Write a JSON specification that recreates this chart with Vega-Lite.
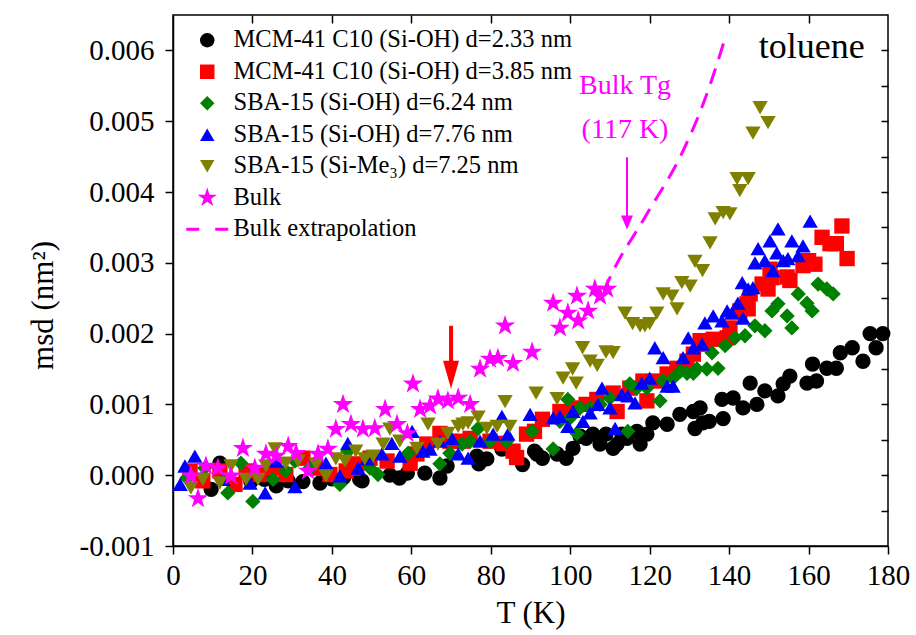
{
  "$schema": "https://vega.github.io/schema/vega-lite/v6.json",
  "width": 715,
  "height": 531,
  "autosize": "none",
  "padding": {"left": 173, "top": 15, "right": 28, "bottom": 89},
  "background": "white",
  "config": {
    "font": "Liberation Serif",
    "view": {"stroke": "black", "strokeWidth": 1.5},
    "axis": {"domainColor": "black", "domainWidth": 1.5, "tickColor": "black", "tickWidth": 1.5, "labelColor": "black", "titleColor": "black", "grid": false, "labelFont": "Liberation Serif", "titleFont": "Liberation Serif", "titleFontWeight": "normal", "zindex": 1},
    "legend": {"orient": "none", "legendX": 22, "legendY": 13, "padding": 0, "rowPadding": 6.5, "labelFontSize": 24.5, "labelFont": "Liberation Serif", "labelColor": "black", "labelOffset": 14, "labelLimit": 0, "symbolSize": 210, "symbolStrokeWidth": 0, "symbolOpacity": 1},
    "text": {"font": "Liberation Serif"}
  },
  "datasets": {
    "pts": [
      {"T":9.6,"msd":-0.0002,"s":"a"},{"T":11.8,"msd":0.00017,"s":"a"},{"T":19.6,"msd":-0.00009,"s":"a"},{"T":23,"msd":-0.00006,"s":"a"},{"T":26,"msd":-0.00015,"s":"a"},{"T":29,"msd":-0.00008,"s":"a"},{"T":32.7,"msd":-0.00009,"s":"a"},{"T":37,"msd":-0.00011,"s":"a"},{"T":40,"msd":-0.00005,"s":"a"},{"T":43,"msd":-0.00003,"s":"a"},{"T":47,"msd":-0.00006,"s":"a"},{"T":47.6,"msd":-0.00008,"s":"a"},{"T":54.6,"msd":0,"s":"a"},{"T":57,"msd":-0.00004,"s":"a"},{"T":59,"msd":0.00003,"s":"a"},{"T":63.4,"msd":0.00003,"s":"a"},{"T":67.2,"msd":-0.00004,"s":"a"},{"T":69,"msd":0.00013,"s":"a"},{"T":76.5,"msd":0.00027,"s":"a"},{"T":77,"msd":0.00016,"s":"a"},{"T":79,"msd":0.00023,"s":"a"},{"T":82.8,"msd":0.00037,"s":"a"},{"T":88,"msd":0.00015,"s":"a"},{"T":91,"msd":0.00034,"s":"a"},{"T":91.6,"msd":0.0003,"s":"a"},{"T":93,"msd":0.00024,"s":"a"},{"T":96.7,"msd":0.0003,"s":"a"},{"T":99,"msd":0.00024,"s":"a"},{"T":100.7,"msd":0.00038,"s":"a"},{"T":102.5,"msd":0.00055,"s":"a"},{"T":104,"msd":0.00052,"s":"a"},{"T":105.7,"msd":0.00058,"s":"a"},{"T":107.5,"msd":0.00044,"s":"a"},{"T":109,"msd":0.00058,"s":"a"},{"T":110.8,"msd":0.00038,"s":"a"},{"T":111.8,"msd":0.00044,"s":"a"},{"T":113,"msd":0.00058,"s":"a"},{"T":114.3,"msd":0.00052,"s":"a"},{"T":116.8,"msd":0.00062,"s":"a"},{"T":117.6,"msd":0.00044,"s":"a"},{"T":119.3,"msd":0.00058,"s":"a"},{"T":120.8,"msd":0.00074,"s":"a"},{"T":124.4,"msd":0.00072,"s":"a"},{"T":127.6,"msd":0.00086,"s":"a"},{"T":131,"msd":0.0009,"s":"a"},{"T":131.4,"msd":0.00066,"s":"a"},{"T":132.7,"msd":0.00095,"s":"a"},{"T":133.4,"msd":0.00074,"s":"a"},{"T":135,"msd":0.00076,"s":"a"},{"T":138.5,"msd":0.0008,"s":"a"},{"T":138.2,"msd":0.00107,"s":"a"},{"T":141,"msd":0.00109,"s":"a"},{"T":143.5,"msd":0.00095,"s":"a"},{"T":145.3,"msd":0.0013,"s":"a"},{"T":147,"msd":0.001,"s":"a"},{"T":149,"msd":0.00119,"s":"a"},{"T":152.3,"msd":0.00112,"s":"a"},{"T":153.6,"msd":0.00129,"s":"a"},{"T":155.3,"msd":0.0014,"s":"a"},{"T":159.6,"msd":0.0013,"s":"a"},{"T":161,"msd":0.00157,"s":"a"},{"T":162,"msd":0.00133,"s":"a"},{"T":164.6,"msd":0.00151,"s":"a"},{"T":167,"msd":0.00151,"s":"a"},{"T":168,"msd":0.00173,"s":"a"},{"T":171,"msd":0.0018,"s":"a"},{"T":173.7,"msd":0.00161,"s":"a"},{"T":175.5,"msd":0.002,"s":"a"},{"T":177,"msd":0.0018,"s":"a"},{"T":178.7,"msd":0.002,"s":"a"},
      {"T":4.3,"msd":0.00006,"s":"b"},{"T":7.5,"msd":-0.00008,"s":"b"},{"T":11.8,"msd":0.00006,"s":"b"},{"T":15.6,"msd":-0.00013,"s":"b"},{"T":18.4,"msd":0.00006,"s":"b"},{"T":21.9,"msd":0.00001,"s":"b"},{"T":25.2,"msd":0.0001,"s":"b"},{"T":28.4,"msd":0.00001,"s":"b"},{"T":32.7,"msd":0.00024,"s":"b"},{"T":36,"msd":0.0001,"s":"b"},{"T":39.5,"msd":0.00001,"s":"b"},{"T":43.6,"msd":0.00006,"s":"b"},{"T":45.3,"msd":0.0001,"s":"b"},{"T":46.3,"msd":0.00016,"s":"b"},{"T":49.6,"msd":0.00024,"s":"b"},{"T":53.9,"msd":0.0002,"s":"b"},{"T":59.7,"msd":0.00017,"s":"b"},{"T":61.4,"msd":0.0003,"s":"b"},{"T":63.9,"msd":0.00044,"s":"b"},{"T":67.2,"msd":0.00059,"s":"b"},{"T":69.7,"msd":0.00048,"s":"b"},{"T":73,"msd":0.00048,"s":"b"},{"T":74.8,"msd":0.00052,"s":"b"},{"T":79.8,"msd":0.00048,"s":"b"},{"T":83.1,"msd":0.00045,"s":"b"},{"T":85.6,"msd":0.00034,"s":"b"},{"T":86.5,"msd":0.00025,"s":"b"},{"T":89,"msd":0.00058,"s":"b"},{"T":91,"msd":0.00062,"s":"b"},{"T":93,"msd":0.00079,"s":"b"},{"T":97.4,"msd":0.0009,"s":"b"},{"T":100.7,"msd":0.00095,"s":"b"},{"T":104,"msd":0.001,"s":"b"},{"T":106.7,"msd":0.00107,"s":"b"},{"T":110.8,"msd":0.00116,"s":"b"},{"T":111.8,"msd":0.0009,"s":"b"},{"T":115,"msd":0.00123,"s":"b"},{"T":118.3,"msd":0.00133,"s":"b"},{"T":119.3,"msd":0.00105,"s":"b"},{"T":121.8,"msd":0.00133,"s":"b"},{"T":124.4,"msd":0.00143,"s":"b"},{"T":126.9,"msd":0.00151,"s":"b"},{"T":129.4,"msd":0.00161,"s":"b"},{"T":131,"msd":0.00171,"s":"b"},{"T":132.7,"msd":0.0019,"s":"b"},{"T":133.4,"msd":0.00185,"s":"b"},{"T":136,"msd":0.00192,"s":"b"},{"T":139.5,"msd":0.00194,"s":"b"},{"T":140.2,"msd":0.00208,"s":"b"},{"T":142.7,"msd":0.00232,"s":"b"},{"T":144.5,"msd":0.00242,"s":"b"},{"T":144.8,"msd":0.00235,"s":"b"},{"T":145.3,"msd":0.00256,"s":"b"},{"T":148.3,"msd":0.0027,"s":"b"},{"T":149.8,"msd":0.00263,"s":"b"},{"T":150.3,"msd":0.00291,"s":"b"},{"T":150.8,"msd":0.00279,"s":"b"},{"T":154.6,"msd":0.0028,"s":"b"},{"T":155.3,"msd":0.00275,"s":"b"},{"T":158.6,"msd":0.00296,"s":"b"},{"T":160,"msd":0.00303,"s":"b"},{"T":161.6,"msd":0.00298,"s":"b"},{"T":163.4,"msd":0.00336,"s":"b"},{"T":165.4,"msd":0.00327,"s":"b"},{"T":167,"msd":0.00327,"s":"b"},{"T":168.4,"msd":0.00352,"s":"b"},{"T":169.7,"msd":0.00306,"s":"b"},
      {"T":3.5,"msd":-0.00004,"s":"c"},{"T":8,"msd":0.0001,"s":"c"},{"T":13.8,"msd":-0.00025,"s":"c"},{"T":17.1,"msd":0.00017,"s":"c"},{"T":20.1,"msd":-0.00037,"s":"c"},{"T":25.2,"msd":-0.00006,"s":"c"},{"T":28.4,"msd":0.00006,"s":"c"},{"T":30.7,"msd":0.0002,"s":"c"},{"T":34.5,"msd":0.0001,"s":"c"},{"T":42,"msd":-0.00013,"s":"c"},{"T":44,"msd":0.00034,"s":"c"},{"T":49.6,"msd":0.0001,"s":"c"},{"T":51.6,"msd":0.00001,"s":"c"},{"T":59.2,"msd":0.00031,"s":"c"},{"T":67.2,"msd":0.00016,"s":"c"},{"T":69.7,"msd":0.00031,"s":"c"},{"T":72.8,"msd":0.00044,"s":"c"},{"T":74.8,"msd":0.00048,"s":"c"},{"T":76.8,"msd":0.00066,"s":"c"},{"T":79.8,"msd":0.00048,"s":"c"},{"T":84,"msd":0.00048,"s":"c"},{"T":90.4,"msd":0.00062,"s":"c"},{"T":95.7,"msd":0.00037,"s":"c"},{"T":97.4,"msd":0.00076,"s":"c"},{"T":99.4,"msd":0.00107,"s":"c"},{"T":100,"msd":0.00081,"s":"c"},{"T":101.7,"msd":0.00059,"s":"c"},{"T":102.5,"msd":0.00095,"s":"c"},{"T":105,"msd":0.00095,"s":"c"},{"T":107.5,"msd":0.001,"s":"c"},{"T":110,"msd":0.00109,"s":"c"},{"T":114.5,"msd":0.00062,"s":"c"},{"T":115,"msd":0.00129,"s":"c"},{"T":116.8,"msd":0.00123,"s":"c"},{"T":119.3,"msd":0.00123,"s":"c"},{"T":122.6,"msd":0.00105,"s":"c"},{"T":123.4,"msd":0.00133,"s":"c"},{"T":125.9,"msd":0.00137,"s":"c"},{"T":127.8,"msd":0.00147,"s":"c"},{"T":129.4,"msd":0.00144,"s":"c"},{"T":131,"msd":0.00144,"s":"c"},{"T":131.9,"msd":0.0015,"s":"c"},{"T":134.4,"msd":0.0015,"s":"c"},{"T":135.7,"msd":0.00173,"s":"c"},{"T":137.2,"msd":0.00151,"s":"c"},{"T":139,"msd":0.00183,"s":"c"},{"T":141.5,"msd":0.00194,"s":"c"},{"T":144,"msd":0.00197,"s":"c"},{"T":146.5,"msd":0.00211,"s":"c"},{"T":149,"msd":0.00204,"s":"c"},{"T":150.8,"msd":0.00232,"s":"c"},{"T":152.3,"msd":0.00242,"s":"c"},{"T":154.6,"msd":0.00225,"s":"c"},{"T":155.8,"msd":0.00208,"s":"c"},{"T":157.4,"msd":0.00256,"s":"c"},{"T":159.6,"msd":0.00243,"s":"c"},{"T":160.9,"msd":0.00232,"s":"c"},{"T":162.4,"msd":0.0027,"s":"c"},{"T":164.6,"msd":0.00263,"s":"c"},{"T":166.2,"msd":0.00256,"s":"c"},
      {"T":1.8,"msd":-0.00013,"s":"d"},{"T":3,"msd":0.00013,"s":"d"},{"T":5.5,"msd":0.00027,"s":"d"},{"T":12.6,"msd":-0.00006,"s":"d"},{"T":19.4,"msd":-0.00011,"s":"d"},{"T":23.2,"msd":-0.00025,"s":"d"},{"T":26,"msd":0.0002,"s":"d"},{"T":30.7,"msd":-0.00016,"s":"d"},{"T":38.5,"msd":0.00017,"s":"d"},{"T":42,"msd":-0.00001,"s":"d"},{"T":44,"msd":0.00045,"s":"d"},{"T":46.6,"msd":0.0001,"s":"d"},{"T":48.8,"msd":0.00023,"s":"d"},{"T":52.6,"msd":0.0003,"s":"d"},{"T":55.1,"msd":0.00045,"s":"d"},{"T":57.1,"msd":0.00027,"s":"d"},{"T":60.2,"msd":0.00062,"s":"d"},{"T":62.9,"msd":0.00034,"s":"d"},{"T":64.7,"msd":0.00037,"s":"d"},{"T":67.2,"msd":0.00048,"s":"d"},{"T":70.2,"msd":0.00052,"s":"d"},{"T":71.8,"msd":0.0003,"s":"d"},{"T":74.3,"msd":0.00024,"s":"d"},{"T":77.3,"msd":0.00048,"s":"d"},{"T":80.6,"msd":0.00058,"s":"d"},{"T":82.8,"msd":0.00083,"s":"d"},{"T":84.3,"msd":0.00058,"s":"d"},{"T":89.9,"msd":0.00086,"s":"d"},{"T":95.7,"msd":0.00081,"s":"d"},{"T":97.4,"msd":0.00083,"s":"d"},{"T":99.4,"msd":0.00069,"s":"d"},{"T":100.7,"msd":0.0009,"s":"d"},{"T":103.2,"msd":0.00076,"s":"d"},{"T":105,"msd":0.00088,"s":"d"},{"T":107,"msd":0.001,"s":"d"},{"T":108,"msd":0.00123,"s":"d"},{"T":110,"msd":0.00095,"s":"d"},{"T":111.3,"msd":0.00066,"s":"d"},{"T":113,"msd":0.00114,"s":"d"},{"T":114.5,"msd":0.00112,"s":"d"},{"T":116.3,"msd":0.00102,"s":"d"},{"T":118,"msd":0.0013,"s":"d"},{"T":120,"msd":0.00137,"s":"d"},{"T":121.3,"msd":0.0018,"s":"d"},{"T":123.4,"msd":0.00166,"s":"d"},{"T":124.4,"msd":0.00126,"s":"d"},{"T":125.9,"msd":0.00126,"s":"d"},{"T":128.4,"msd":0.00166,"s":"d"},{"T":129.7,"msd":0.00194,"s":"d"},{"T":131,"msd":0.0018,"s":"d"},{"T":133.2,"msd":0.00185,"s":"d"},{"T":133.9,"msd":0.00215,"s":"d"},{"T":136,"msd":0.00225,"s":"d"},{"T":138.2,"msd":0.00218,"s":"d"},{"T":139.5,"msd":0.00232,"s":"d"},{"T":140.7,"msd":0.00229,"s":"d"},{"T":142.2,"msd":0.00243,"s":"d"},{"T":143.3,"msd":0.00272,"s":"d"},{"T":143.5,"msd":0.00222,"s":"d"},{"T":144.8,"msd":0.00263,"s":"d"},{"T":146,"msd":0.00265,"s":"d"},{"T":146.5,"msd":0.003,"s":"d"},{"T":147.3,"msd":0.0032,"s":"d"},{"T":149,"msd":0.00303,"s":"d"},{"T":150.3,"msd":0.00331,"s":"d"},{"T":151,"msd":0.00289,"s":"d"},{"T":152,"msd":0.00314,"s":"d"},{"T":152.3,"msd":0.00348,"s":"d"},{"T":153.6,"msd":0.00303,"s":"d"},{"T":154.8,"msd":0.00306,"s":"d"},{"T":155.8,"msd":0.00331,"s":"d"},{"T":157.4,"msd":0.0031,"s":"d"},{"T":158.6,"msd":0.00324,"s":"d"},{"T":160.4,"msd":0.00359,"s":"d"},
      {"T":4.5,"msd":-0.00018,"s":"e"},{"T":7.5,"msd":-0.00006,"s":"e"},{"T":11.8,"msd":-0.00011,"s":"e"},{"T":14.6,"msd":0.00013,"s":"e"},{"T":18.4,"msd":-0.00006,"s":"e"},{"T":21.4,"msd":-0.00006,"s":"e"},{"T":23.4,"msd":0.00013,"s":"e"},{"T":25.7,"msd":0.00037,"s":"e"},{"T":28.4,"msd":0.00017,"s":"e"},{"T":31.5,"msd":0.0002,"s":"e"},{"T":36,"msd":0.00016,"s":"e"},{"T":38.5,"msd":-0.00001,"s":"e"},{"T":41,"msd":0.00023,"s":"e"},{"T":43.3,"msd":0.0002,"s":"e"},{"T":46,"msd":0.00034,"s":"e"},{"T":48.3,"msd":0.00023,"s":"e"},{"T":50.4,"msd":0.00027,"s":"e"},{"T":52.9,"msd":0.00044,"s":"e"},{"T":54.6,"msd":0.00065,"s":"e"},{"T":57.1,"msd":0.00048,"s":"e"},{"T":61.4,"msd":0.00038,"s":"e"},{"T":64.2,"msd":0.00072,"s":"e"},{"T":66.7,"msd":0.00044,"s":"e"},{"T":69.2,"msd":0.00059,"s":"e"},{"T":71.8,"msd":0.00069,"s":"e"},{"T":73,"msd":0.00072,"s":"e"},{"T":74.3,"msd":0.00074,"s":"e"},{"T":76.8,"msd":0.00082,"s":"e"},{"T":79,"msd":0.00066,"s":"e"},{"T":81.6,"msd":0.00069,"s":"e"},{"T":83.6,"msd":0.00104,"s":"e"},{"T":84.8,"msd":0.00069,"s":"e"},{"T":91.4,"msd":0.00116,"s":"e"},{"T":96.7,"msd":0.00108,"s":"e"},{"T":98.2,"msd":0.00137,"s":"e"},{"T":100.6,"msd":0.0015,"s":"e"},{"T":101.5,"msd":0.0013,"s":"e"},{"T":103.1,"msd":0.0018,"s":"e"},{"T":105,"msd":0.00161,"s":"e"},{"T":106.8,"msd":0.00155,"s":"e"},{"T":109,"msd":0.00174,"s":"e"},{"T":110.8,"msd":0.00173,"s":"e"},{"T":113.8,"msd":0.00229,"s":"e"},{"T":115.7,"msd":0.00214,"s":"e"},{"T":117.6,"msd":0.00211,"s":"e"},{"T":118.8,"msd":0.00211,"s":"e"},{"T":120,"msd":0.00214,"s":"e"},{"T":121.8,"msd":0.00229,"s":"e"},{"T":123.4,"msd":0.00256,"s":"e"},{"T":125.6,"msd":0.00253,"s":"e"},{"T":126.9,"msd":0.00235,"s":"e"},{"T":128.1,"msd":0.00272,"s":"e"},{"T":130.2,"msd":0.00267,"s":"e"},{"T":131.4,"msd":0.00302,"s":"e"},{"T":133.3,"msd":0.00289,"s":"e"},{"T":135.2,"msd":0.00328,"s":"e"},{"T":136.5,"msd":0.00362,"s":"e"},{"T":138.5,"msd":0.00371,"s":"e"},{"T":140.2,"msd":0.00369,"s":"e"},{"T":142,"msd":0.00419,"s":"e"},{"T":142.7,"msd":0.00402,"s":"e"},{"T":144.8,"msd":0.00419,"s":"e"},{"T":146,"msd":0.00483,"s":"e"},{"T":147.8,"msd":0.00519,"s":"e"},{"T":149.8,"msd":0.00498,"s":"e"},
      {"T":4.5,"msd":-0.00001,"s":"f"},{"T":6.3,"msd":-0.00033,"s":"f"},{"T":8.3,"msd":0.00013,"s":"f"},{"T":11.3,"msd":0.0001,"s":"f"},{"T":14.6,"msd":-0.00001,"s":"f"},{"T":17.6,"msd":0.00038,"s":"f"},{"T":20.6,"msd":0.0001,"s":"f"},{"T":23.4,"msd":0.0003,"s":"f"},{"T":26,"msd":0.00027,"s":"f"},{"T":29,"msd":0.00041,"s":"f"},{"T":31,"msd":0.00031,"s":"f"},{"T":34,"msd":0.00006,"s":"f"},{"T":36.5,"msd":0.0003,"s":"f"},{"T":39,"msd":0.00037,"s":"f"},{"T":41,"msd":0.00065,"s":"f"},{"T":42.8,"msd":0.001,"s":"f"},{"T":44.8,"msd":0.00072,"s":"f"},{"T":47.8,"msd":0.00065,"s":"f"},{"T":50.8,"msd":0.00066,"s":"f"},{"T":53.4,"msd":0.00093,"s":"f"},{"T":56.4,"msd":0.00072,"s":"f"},{"T":59,"msd":0.00059,"s":"f"},{"T":60.4,"msd":0.00129,"s":"f"},{"T":62.2,"msd":0.00093,"s":"f"},{"T":64.7,"msd":0.00098,"s":"f"},{"T":66.7,"msd":0.00108,"s":"f"},{"T":69.2,"msd":0.00105,"s":"f"},{"T":71.8,"msd":0.00109,"s":"f"},{"T":74.8,"msd":0.001,"s":"f"},{"T":77.3,"msd":0.0015,"s":"f"},{"T":79.8,"msd":0.00164,"s":"f"},{"T":81.8,"msd":0.00165,"s":"f"},{"T":83.6,"msd":0.00211,"s":"f"},{"T":85.6,"msd":0.00158,"s":"f"},{"T":90.4,"msd":0.00174,"s":"f"},{"T":95.7,"msd":0.00243,"s":"f"},{"T":97.4,"msd":0.00208,"s":"f"},{"T":99.4,"msd":0.00229,"s":"f"},{"T":101.7,"msd":0.00253,"s":"f"},{"T":102,"msd":0.00218,"s":"f"},{"T":104.5,"msd":0.00232,"s":"f"},{"T":106.2,"msd":0.00263,"s":"f"},{"T":107.5,"msd":0.00253,"s":"f"},{"T":109.3,"msd":0.00263,"s":"f"}
    ],
    "ext": [
      {"T":108.5,"msd":0.0026},{"T":110,"msd":0.00279},{"T":119,"msd":0.00366},{"T":128.4,"msd":0.00458},{"T":133.5,"msd":0.00525},{"T":138.2,"msd":0.00603},{"T":138.9,"msd":0.00616}
    ]
  },
  "layer": [
    {
      "layer": [
        {
          "data": {"name": "pts"},
          "mark": {"type": "point", "filled": true, "opacity": 1, "size": 235, "strokeWidth": 0},
          "encoding": {
            "x": {"field": "T", "type": "quantitative", "scale": {"domain": [0, 180], "nice": false, "zero": false},
              "axis": {"orient": "bottom", "values": [0,10,20,30,40,50,60,70,80,90,100,110,120,130,140,150,160,170,180], "tickSize": {"condition": {"test": "datum.value % 20 != 0", "value": 4}, "value": 8}, "labelExpr": "datum.value % 20 == 0 ? datum.label : ''", "labelFontSize": 29, "labelPadding": 7, "title": "T (K)", "titleFontSize": 31, "titlePadding": 8, "labelFlush": false}},
            "y": {"field": "msd", "type": "quantitative", "scale": {"domain": [-0.001, 0.0065], "nice": false, "zero": false},
              "axis": {"orient": "left", "values": [-0.001,-0.0005,0,0.0005,0.001,0.0015,0.002,0.0025,0.003,0.0035,0.004,0.0045,0.005,0.0055,0.006,0.0065], "tickSize": {"condition": {"test": "abs(round(datum.value * 1000) - datum.value * 1000) > 0.1", "value": 4}, "value": 8}, "labelFontSize": 29, "labelPadding": 11, "labelExpr": "abs(round(datum.value * 1000) - datum.value * 1000) > 0.1 ? '' : datum.value < 0 ? '-' + format(-datum.value, '.3f') : format(datum.value, '.3f')", "title": "msd (nm²)", "titleFontSize": 31, "titlePadding": 20, "titleY": 290, "labelFlush": false}},
            "color": {"field": "s", "type": "nominal",
              "scale": {"domain": ["a","b","c","d","e","f","g"], "range": ["#000000","#ff0000","#008000","#0000ff","#808000","#ff00ff","#ff00ff"]},
              "legend": {"title": null, "labelExpr": "datum.label == 'a' ? 'MCM-41 C10 (Si-OH) d=2.33 nm' : datum.label == 'b' ? 'MCM-41 C10 (Si-OH) d=3.85 nm' : datum.label == 'c' ? 'SBA-15 (Si-OH) d=6.24 nm' : datum.label == 'd' ? 'SBA-15 (Si-OH) d=7.76 nm' : datum.label == 'e' ? 'SBA-15 (Si-Me₃) d=7.25 nm' : datum.label == 'f' ? 'Bulk' : 'Bulk extrapolation'"}},
            "shape": {"field": "s", "type": "nominal",
              "scale": {"domain": ["a","b","c","d","e","f","g"], "range": ["circle","square","diamond","triangle-up","triangle-down","M0,-1.4L0.32,-0.43L1.33,-0.43L0.51,0.16L0.83,1.13L0,0.54L-0.83,1.13L-0.51,0.16L-1.33,-0.43L-0.32,-0.43Z","M-2.9,-0.2H-1.1V0.2H-2.9Z M1.1,-0.2H2.9V0.2H1.1Z"]},
              "legend": {"title": null, "labelExpr": "datum.label == 'a' ? 'MCM-41 C10 (Si-OH) d=2.33 nm' : datum.label == 'b' ? 'MCM-41 C10 (Si-OH) d=3.85 nm' : datum.label == 'c' ? 'SBA-15 (Si-OH) d=6.24 nm' : datum.label == 'd' ? 'SBA-15 (Si-OH) d=7.76 nm' : datum.label == 'e' ? 'SBA-15 (Si-Me₃) d=7.25 nm' : datum.label == 'f' ? 'Bulk' : 'Bulk extrapolation'"}}
          }
        },
        {
          "data": {"values": [{"T": 114.3, "a": 0.00449, "b": 0.0036}]},
          "mark": {"type": "rule", "color": "#ff00ff", "strokeWidth": 2},
          "encoding": {
            "x": {"field": "T", "type": "quantitative"},
            "y": {"field": "a", "type": "quantitative"},
            "y2": {"field": "b"}
          }
        },
        {
          "data": {"values": [{"T": 70, "a": 0.00211, "b": 0.0015}]},
          "mark": {"type": "rule", "color": "#ff0000", "strokeWidth": 4},
          "encoding": {
            "x": {"field": "T", "type": "quantitative"},
            "y": {"field": "a", "type": "quantitative"},
            "y2": {"field": "b"}
          }
        },
        {
          "data": {"values": [{"T": 114.3, "tip": 0.00347}]},
          "mark": {"type": "point", "filled": true, "opacity": 1, "color": "#ff00ff", "strokeWidth": 0, "size": 196, "shape": "M-0.86,-2L0.86,-2L0,0Z"},
          "encoding": {
            "x": {"field": "T", "type": "quantitative"},
            "y": {"field": "tip", "type": "quantitative"}
          }
        },
        {
          "data": {"values": [{"T": 70, "tip": 0.00122}]},
          "mark": {"type": "point", "filled": true, "opacity": 1, "color": "#ff0000", "strokeWidth": 0, "size": 784, "shape": "M-0.57,-2L0.57,-2L0,0Z"},
          "encoding": {
            "x": {"field": "T", "type": "quantitative"},
            "y": {"field": "tip", "type": "quantitative"}
          }
        },
        {
          "data": {"values": [{"T": 113.8, "msd": 0.0055, "txt": "Bulk Tg"}, {"T": 113.8, "msd": 0.00487, "txt": "(117 K)"}]},
          "mark": {"type": "text", "color": "#ff00ff", "fontSize": 28, "align": "center", "baseline": "middle"},
          "encoding": {
            "x": {"field": "T", "type": "quantitative"},
            "y": {"field": "msd", "type": "quantitative"},
            "text": {"field": "txt"}
          }
        },
        {
          "data": {"values": [{"T": 160.8, "msd": 0.00605, "txt": "toluene"}]},
          "mark": {"type": "text", "color": "#000000", "fontSize": 36, "align": "center", "baseline": "middle"},
          "encoding": {
            "x": {"field": "T", "type": "quantitative"},
            "y": {"field": "msd", "type": "quantitative"},
            "text": {"field": "txt"}
          }
        }
      ]
    },
    {
      "data": {"name": "ext"},
      "mark": {"type": "line", "color": "#ff00ff", "strokeWidth": 3, "strokeDash": [16, 10], "interpolate": "monotone"},
      "encoding": {
        "x": {"field": "T", "type": "quantitative", "scale": {"domain": [0, 180], "nice": false, "zero": false},
          "axis": {"orient": "top", "values": [20,40,60,80,100,120,140,160], "tickSize": -8, "labels": false, "domain": false, "title": null}},
        "y": {"field": "msd", "type": "quantitative", "scale": {"domain": [-0.001, 0.0065], "nice": false, "zero": false},
          "axis": {"orient": "right", "values": [-0.0005,0,0.0005,0.001,0.0015,0.002,0.0025,0.003,0.0035,0.004,0.0045,0.005,0.0055,0.006], "tickSize": -7, "labels": false, "domain": false, "title": null}}
      }
    }
  ],
  "resolve": {"scale": {"x": "independent", "y": "independent"}}
}
